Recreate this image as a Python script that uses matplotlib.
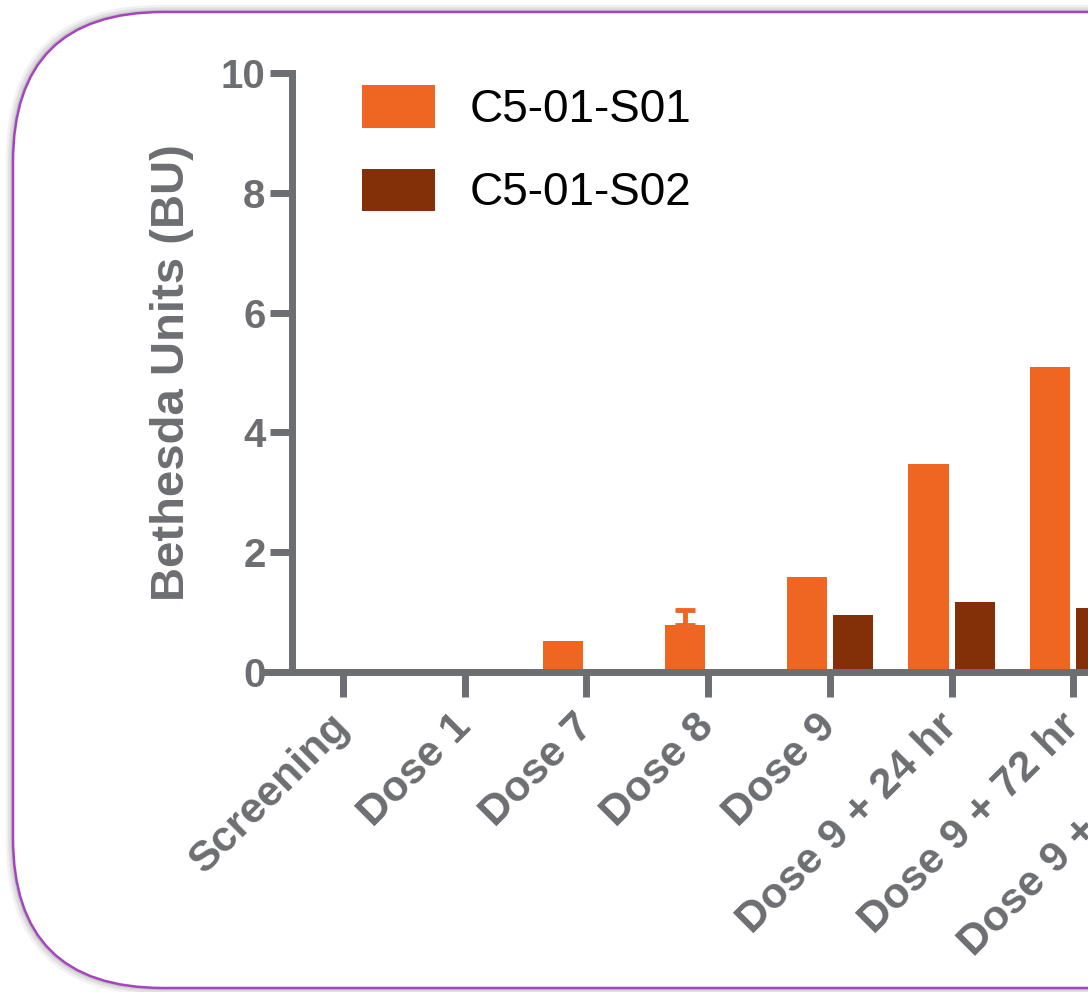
import numpy as np
import matplotlib
matplotlib.use("Agg")
import matplotlib.pyplot as plt
from matplotlib.patches import FancyBboxPatch

plt.rcParams['font.family'] = ['Liberation Sans', 'DejaVu Sans']

# data (last visit is cut off at the right edge)
visits = ["Screening", "Dose 1", "Dose 7", "Dose 8", "Dose 9",
          "Dose 9 + 24 hr", "Dose 9 + 72 hr", "Dose 9 + 7 days"]
s01 = [0, 0, 0.52, 0.78, 1.58, 3.47, 5.09, np.nan]
s02 = [0, 0, 0, 0, 0.95, 1.17, 1.07, np.nan]
s01_err_up = [0, 0, 0, 0.25, 0, 0, 0, 0]
series_names = ["C5-01-S01", "C5-01-S02"]

orange = "#ee6622"
brown = "#833008"
grey = "#6d6e71"

fig = plt.figure(figsize=(10.88, 9.92), dpi=100)

# rounded frame behind the chart, running off the right edge
bg = fig.add_axes([0, 0, 1, 1], zorder=0)
bg.set_xlim(0, 1088)
bg.set_ylim(992, 0)
bg.axis('off')
for off, a in [(6, 0.05), (4, 0.07), (2, 0.1)]:
    bg.add_patch(FancyBboxPatch((13 - off / 2, 12 - off / 2), 1400, 976 + off,
                                boxstyle="round,pad=0,rounding_size=150",
                                fill=False, edgecolor="black", alpha=a,
                                linewidth=off))
bg.add_patch(FancyBboxPatch((13, 12), 1400, 976,
                            boxstyle="round,pad=0,rounding_size=150",
                            facecolor="white", edgecolor="#a545bd",
                            linewidth=1.8))

ax = fig.add_axes([267 / 1088, 320 / 992, 1001 / 1088, 599 / 992], zorder=1)
ax.set_facecolor('none')

x = np.arange(len(visits))
w = 0.33
ax.bar(x - 0.19, s01, w, color=orange, label=series_names[0], zorder=2)
ax.bar(x + 0.19, s02, w, color=brown, label=series_names[1], zorder=2)

# only the visits that have an error bar
err = np.array(s01_err_up)
has_err = err > 0
ax.errorbar(x[has_err] - 0.19, np.array(s01)[has_err],
            yerr=[np.zeros(has_err.sum()), err[has_err]],
            fmt='none', ecolor=orange, elinewidth=3.5, capsize=7,
            capthick=3.5, zorder=3)

ax.set_xlim(-0.625, 7.6)
ax.set_ylim(0, 10)

for side in ['top', 'right']:
    ax.spines[side].set_visible(False)
for side in ['left', 'bottom']:
    ax.spines[side].set_color(grey)
    ax.spines[side].set_linewidth(5)
ax.spines['left'].set_position(('data', -0.42))

ax.set_yticks([0, 2, 4, 6, 8, 10])
ax.tick_params(axis='y', length=16, width=5, color=grey, pad=3,
               labelsize=29, labelcolor=grey)
ax.tick_params(axis='x', length=18, width=5, color=grey, pad=17,
               labelsize=31, labelcolor=grey)
for lab in ax.get_yticklabels():
    lab.set_fontweight('bold')

ax.set_xticks(x)
ax.set_xticklabels(visits, rotation=45, ha='right', va='center',
                   rotation_mode='anchor', fontweight='bold')

ax.set_ylabel("Bethesda Units (BU)", fontsize=34, fontweight='bold', color=grey)
ax.yaxis.set_label_coords(-0.073, 0.5)

ax.legend(loc='upper left', bbox_to_anchor=(362 / 1088, 1 - 85 / 992),
          bbox_transform=fig.transFigure, frameon=False, fontsize=33,
          handlelength=1.6, handleheight=1.05, handletextpad=0.74,
          labelspacing=0.8, borderpad=0, borderaxespad=0)

fig.savefig("out.png", dpi=100, facecolor="white")
